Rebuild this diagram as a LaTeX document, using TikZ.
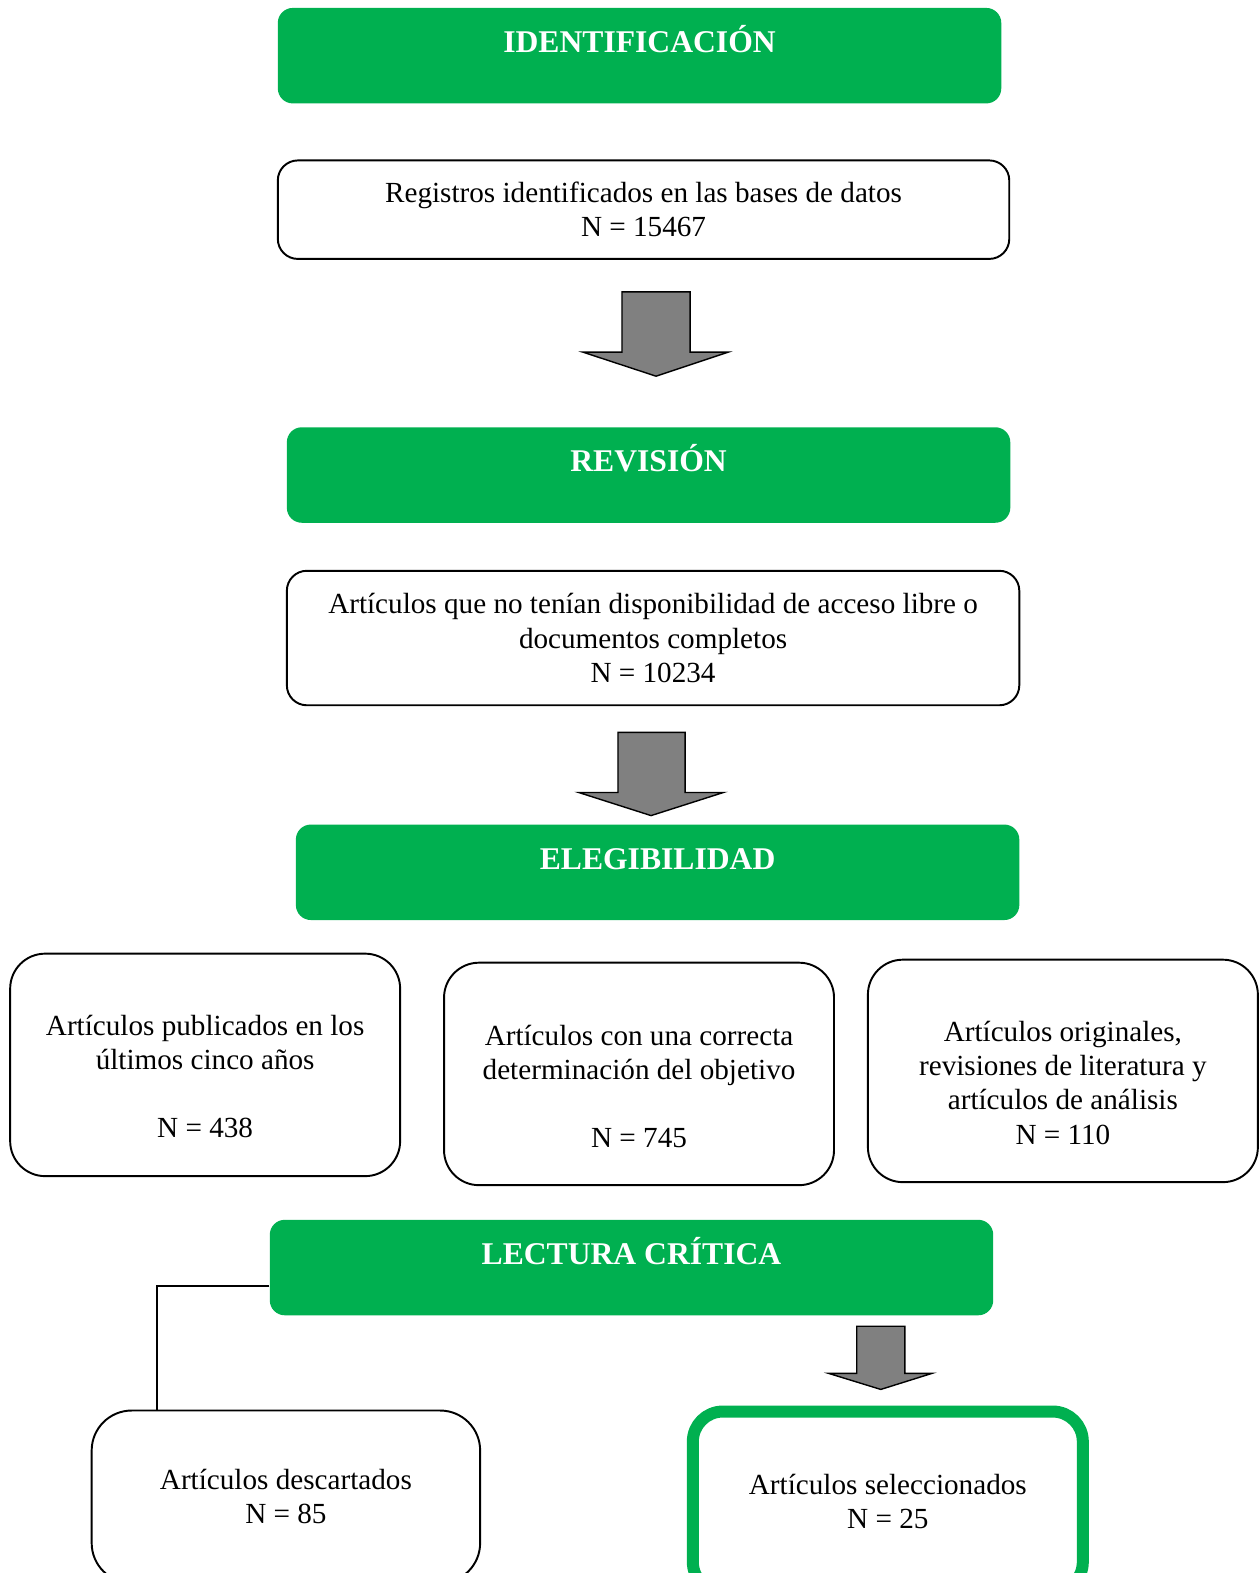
\documentclass[tikz,border=0pt]{standalone}
\usepackage{fontspec}
\setmainfont{Liberation Serif}
\definecolor{phasegreen}{HTML}{00B050}
\definecolor{arrowgray}{HTML}{808080}

\begin{document}
\begin{tikzpicture}[x=0.02006cm, y=-0.02006cm,
    font=\fontsize{16.6}{19.4}\selectfont,
    phase/.style={rectangle, rounded corners=0.3cm, fill=phasegreen, draw=none, minimum width=14.47cm, minimum height=1.91cm},
    phasetitle/.style={anchor=base, text=white, font=\fontsize{18}{20}\selectfont\bfseries},
    stepbox/.style={draw, line width=1.1pt, rounded corners=0.4cm, align=center},
    countbox/.style={draw, line width=1.1pt, rounded corners=0.7cm, minimum width=7.8cm, minimum height=4.45cm},
    bodytext/.style={align=center},
    fatarrow/.style={draw, line width=0.8pt, fill=arrowgray, line join=miter},
    link/.style={draw, line width=1.1pt}]
    \useasboundingbox (0,0) rectangle (1255,1568);

    % Identificacion
    \node[phase] (ident) at (637.5,55.5) {};
    \node[phasetitle] (identtitle) at ([yshift=-0.9cm]ident.north) {IDENTIFICACIÓN};
    \node[stepbox, minimum width=14.63cm, minimum height=1.97cm] (reg) at (641.5,209)
        {Registros identificados en las bases de datos\\ N = 15467};
    \draw[fatarrow] (620,291) -- (688,291) -- (688,351) -- (726,351) -- (654,375)
        -- (581,351) -- (620,351) -- cycle;

    % Revision
    \node[phase] (rev) at (646.5,473.5) {};
    \node[phasetitle] (revtitle) at ([yshift=-0.9cm]rev.north) {REVISIÓN};
    \node[stepbox, minimum width=14.65cm, minimum height=2.69cm] (noacc) at (651,636)
        {Artículos que no tenían disponibilidad de acceso libre o\\ documentos completos\\ N = 10234};
    \draw[fatarrow] (616,730) -- (683,730) -- (683,790) -- (721,790) -- (649,813)
        -- (577,790) -- (616,790) -- cycle;

    % Elegibilidad
    \node[phase] (eleg) at (655.5,869.5) {};
    \node[phasetitle] (elegtitle) at ([yshift=-0.9cm]eleg.north) {ELEGIBILIDAD};
    \node[countbox] (years) at (204.5,1061.5) {};
    \node[bodytext] (yearstext) at ([yshift=-0.24cm]years.center)
        {Artículos publicados en los\\ últimos cinco años\\[0.68cm] N = 438};
    \node[countbox] (goal) at (637,1070.5) {};
    \node[bodytext] (goaltext) at ([yshift=-0.25cm]goal.center)
        {Artículos con una correcta\\ determinación del objetivo\\[0.68cm] N = 745};
    \node[countbox] (kinds) at (1059.5,1067.5) {};
    \node[bodytext] (kindstext) at ([yshift=-0.24cm]kinds.center)
        {Artículos originales,\\ revisiones de literatura y\\ artículos de análisis\\ N = 110};

    % Lectura critica
    \node[phase] (crit) at (629.5,1263.5) {};
    \node[phasetitle] (crittitle) at ([yshift=-0.9cm]crit.north) {LECTURA CRÍTICA};
    \node[stepbox, rounded corners=0.8cm, minimum width=7.77cm, minimum height=3.45cm] (out) at (285,1492)
        {Artículos descartados\\ N = 85};
    \node[stepbox, draw=phasegreen, line width=0.24cm, rounded corners=0.6cm, minimum width=7.8cm, minimum height=3.61cm] (sel) at (885,1497)
        {Artículos seleccionados\\ N = 25};
    \coordinate (bend) at (156.5,1282);
    \draw[link] (crit.west |- bend) -- (bend) -- (bend |- out.north);
    \draw[fatarrow] (854,1322) -- (902,1322) -- (902,1369) -- (929,1369) -- (878,1385)
        -- (826,1369) -- (854,1369) -- cycle;
\end{tikzpicture}
\end{document}
